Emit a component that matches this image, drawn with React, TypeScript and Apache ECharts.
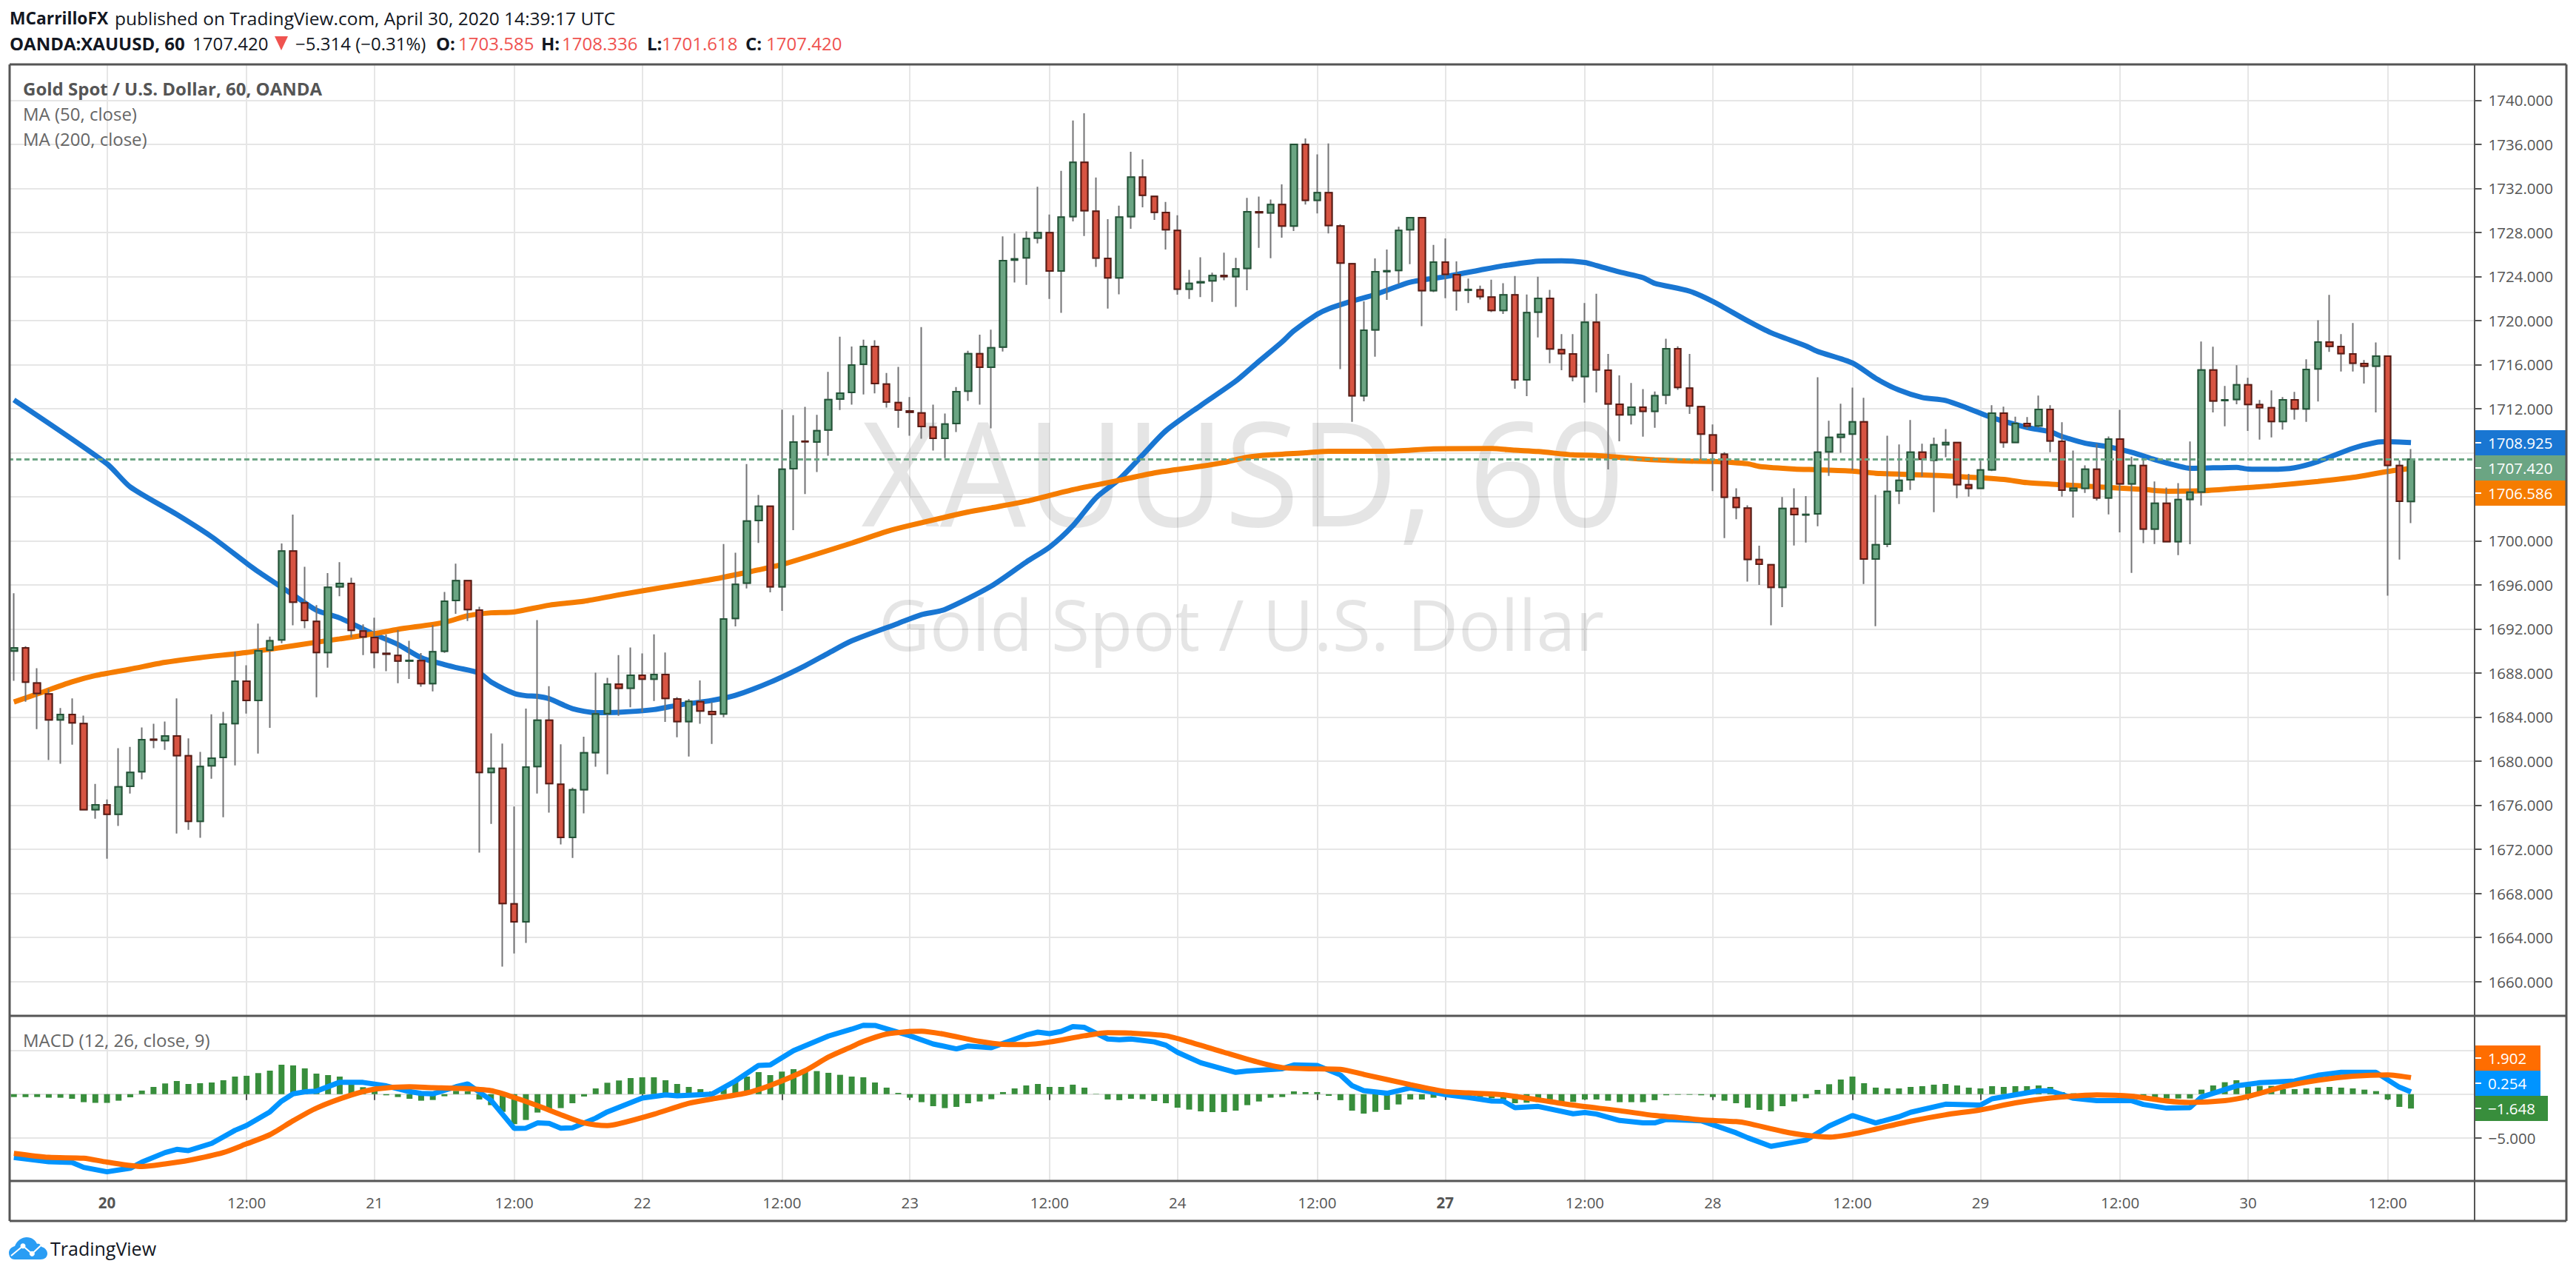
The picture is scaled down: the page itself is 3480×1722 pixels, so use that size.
import React, { useEffect, useRef } from "react";
import * as echarts from "echarts";

// open, high, low, close
const candles: number[][] = [
[1690.0,1695.24,1687.29,1690.29],[1690.29,1690.44,1685.4,1687.17],[1687.1,1688.43,1682.9,1686.15],[1686.1,1686.57,1680.1,1683.75],
[1683.75,1684.83,1679.76,1684.23],[1684.23,1685.7,1681.5,1683.48],[1683.42,1684.14,1675.59,1675.59],[1675.59,1677.93,1674.78,1676.04],
[1676.04,1676.52,1671.15,1675.17],[1675.17,1681.17,1674.12,1677.66],[1677.72,1681.29,1677.06,1678.98],[1679.04,1683.06,1678.35,1681.95],
[1681.98,1683.39,1681.17,1681.92],[1681.86,1683.6,1681.02,1682.28],[1682.28,1685.7,1673.43,1680.51],[1680.48,1682.07,1673.76,1674.54],
[1674.54,1680.84,1673.04,1679.52],[1679.58,1684.26,1678.41,1680.27],[1680.33,1684.47,1674.9,1683.36],[1683.42,1689.93,1679.61,1687.26],
[1687.26,1688.7,1684.32,1685.52],[1685.52,1692.48,1680.69,1690.02],[1690.08,1691.31,1683.03,1690.92],[1691.01,1699.77,1690.71,1699.08],
[1699.08,1702.38,1692.33,1694.43],[1694.37,1697.64,1692.06,1692.78],[1692.69,1694.16,1685.79,1689.87],[1689.87,1697.07,1688.49,1695.78],
[1695.84,1698.06,1694.97,1696.14],[1696.14,1696.65,1691.22,1691.88],[1691.82,1692.42,1689.63,1691.28],[1691.22,1693.02,1688.43,1689.87],
[1689.78,1691.52,1688.16,1689.72],[1689.6,1691.91,1687.08,1689.09],[1689.09,1690.92,1687.47,1689.15],[1689.12,1689.81,1686.75,1687.05],
[1687.05,1692.36,1686.33,1689.93],[1689.99,1695.36,1689.84,1694.52],[1694.58,1697.94,1693.38,1696.38],[1696.38,1696.38,1692.72,1693.77],
[1693.71,1694.01,1671.69,1678.98],[1678.98,1682.52,1674.3,1679.34],[1679.34,1681.59,1661.34,1667.07],[1667.04,1675.89,1662.54,1665.42],
[1665.42,1684.77,1663.5,1679.46],[1679.52,1692.81,1677.06,1683.72],[1683.72,1686.81,1675.32,1677.96],[1677.9,1681.53,1672.44,1673.07],
[1673.07,1677.6,1671.21,1677.39],[1677.42,1682.22,1675.26,1680.75],[1680.78,1688.04,1679.49,1684.29],[1684.32,1687.56,1678.8,1686.99],
[1686.99,1689.63,1684.11,1686.63],[1686.63,1690.32,1684.89,1687.8],[1687.8,1689.78,1684.44,1687.44],[1687.44,1691.52,1685.46,1687.86],
[1687.86,1689.87,1683.57,1685.7],[1685.64,1685.82,1682.16,1683.6],[1683.6,1685.64,1680.42,1685.43],[1685.4,1687.32,1683.39,1684.56],
[1684.5,1685.34,1681.56,1684.26],[1684.29,1699.71,1683.99,1692.9],[1692.96,1698.93,1692.24,1696.05],[1696.16,1706.98,1695.68,1701.79],
[1701.85,1704.16,1699.81,1703.14],[1703.14,1703.2,1695.32,1695.83],[1695.83,1711.92,1693.64,1706.5],[1706.56,1711.41,1700.98,1708.98],
[1709.05,1712.16,1704.25,1709.0],[1708.98,1711.44,1706.26,1710.0],[1710.06,1715.34,1707.73,1712.82],[1712.88,1718.54,1711.89,1713.42],
[1713.48,1717.65,1712.37,1715.97],[1716.03,1718.27,1713.3,1717.65],[1717.65,1718.21,1713.39,1714.29],[1714.23,1715.25,1712.1,1712.61],
[1712.55,1715.79,1710.27,1711.89],[1711.8,1713.06,1709.55,1711.68],[1711.62,1719.41,1709.28,1710.39],[1710.33,1712.37,1708.2,1709.31],
[1709.31,1711.56,1707.52,1710.6],[1710.66,1713.96,1709.88,1713.54],[1713.6,1717.26,1712.7,1716.99],[1716.99,1718.72,1712.37,1715.76],
[1715.76,1719.17,1710.21,1717.53],[1717.59,1727.65,1717.2,1725.44],[1725.5,1727.92,1723.46,1725.6],[1725.7,1728.1,1723.25,1727.44],
[1727.5,1732.15,1727.0,1727.98],[1727.98,1729.63,1721.96,1724.5],[1724.5,1733.59,1720.7,1729.39],[1729.45,1738.17,1729.0,1734.37],
[1734.37,1738.83,1727.68,1729.99],[1729.93,1732.99,1724.87,1725.68],[1725.65,1729.21,1721.09,1723.88],[1723.88,1730.44,1722.38,1729.39],
[1729.45,1735.33,1728.34,1733.02],[1733.02,1734.64,1730.29,1731.37],[1731.28,1731.28,1729.15,1729.84],[1729.81,1730.77,1726.46,1728.25],
[1728.19,1729.57,1722.35,1722.86],[1722.86,1724.6,1721.96,1723.37],[1723.44,1725.74,1722.14,1723.52],[1723.61,1724.36,1721.69,1724.09],
[1724.09,1726.16,1723.67,1724.0],[1724.0,1725.7,1721.24,1724.69],[1724.74,1731.14,1722.76,1729.88],[1729.88,1731.26,1726.6,1729.8],
[1729.78,1730.99,1725.67,1730.54],[1730.54,1732.37,1727.53,1728.58],[1728.58,1736.0,1728.13,1736.0],[1736.0,1736.54,1730.54,1730.93],
[1730.93,1735.1,1729.73,1731.62],[1731.62,1736.09,1727.92,1728.64],[1728.58,1728.74,1715.59,1725.22],[1725.16,1725.25,1710.81,1713.18],
[1713.18,1721.74,1712.67,1719.13],[1719.16,1725.64,1716.73,1724.44],[1724.45,1726.45,1721.89,1724.52],[1724.56,1728.52,1723.3,1728.19],
[1728.25,1729.34,1725.13,1729.34],[1729.34,1729.34,1719.49,1722.73],[1722.73,1726.87,1722.58,1725.31],[1725.31,1727.47,1722.04,1724.2],
[1724.17,1725.37,1720.9,1722.73],[1722.75,1723.81,1721.59,1722.83],[1722.79,1723.18,1721.92,1722.19],[1722.13,1723.72,1720.78,1720.93],
[1720.93,1723.39,1720.6,1722.34],[1722.34,1724.05,1713.81,1714.63],[1714.63,1722.37,1713.15,1720.72],[1720.78,1723.99,1718.47,1722.01],
[1722.01,1722.79,1716.13,1717.42],[1717.36,1718.77,1715.5,1717.0],[1716.97,1718.77,1714.48,1714.93],[1714.93,1721.59,1712.55,1719.85],
[1719.85,1722.43,1713.48,1715.53],[1715.5,1716.97,1706.49,1712.43],[1712.4,1715.02,1709.04,1711.44],[1711.44,1714.33,1710.57,1712.13],
[1712.13,1713.78,1709.46,1711.77],[1711.77,1713.57,1710.27,1713.18],[1713.24,1718.35,1712.4,1717.45],[1717.45,1717.66,1713.72,1713.94],
[1713.87,1716.97,1711.53,1712.25],[1712.19,1712.19,1707.42,1709.7],[1709.61,1710.57,1704.52,1707.96],[1707.87,1708.05,1700.25,1703.97],
[1703.91,1704.78,1701.96,1703.04],[1702.98,1703.22,1696.31,1698.32],[1698.31,1699.56,1696.0,1697.88],[1697.84,1697.84,1692.33,1695.78],
[1695.78,1703.99,1693.99,1702.94],[1702.94,1704.78,1699.58,1702.38],[1702.36,1704.06,1699.85,1702.4],[1702.45,1714.85,1701.33,1708.05],
[1708.09,1710.91,1705.9,1709.39],[1709.41,1712.46,1708.0,1709.66],[1709.7,1713.91,1706.41,1710.8],[1710.8,1712.99,1696.09,1698.35],
[1698.35,1704.17,1692.26,1699.65],[1699.7,1709.55,1699.43,1704.49],[1704.53,1708.76,1703.34,1705.49],[1705.54,1710.98,1704.62,1708.05],
[1708.05,1708.83,1705.85,1707.42],[1707.33,1709.37,1702.61,1708.72],[1708.74,1710.15,1707.6,1708.92],[1708.92,1708.92,1703.88,1705.11],
[1705.09,1706.08,1704.02,1704.78],[1704.78,1707.28,1704.78,1706.43],[1706.46,1712.32,1706.34,1711.6],[1711.6,1712.19,1708.45,1708.94],
[1708.94,1711.27,1708.94,1710.66],[1710.66,1711.25,1710.15,1710.42],[1710.44,1713.19,1710.28,1711.94],[1711.94,1712.32,1708.05,1709.08],
[1709.05,1710.78,1704.02,1704.6],[1704.56,1708.2,1702.11,1704.78],[1704.78,1706.86,1704.35,1706.5],[1706.5,1708.81,1703.66,1703.9],
[1703.9,1709.48,1702.4,1709.25],[1709.25,1711.9,1700.77,1705.18],[1705.18,1707.64,1697.1,1706.84],[1706.84,1707.31,1699.79,1701.08],
[1701.08,1705.4,1699.72,1703.41],[1703.41,1704.84,1699.94,1699.94],[1699.94,1705.25,1698.71,1703.75],[1703.77,1709.03,1699.7,1704.42],
[1704.44,1718.1,1703.21,1715.52],[1715.52,1717.63,1711.67,1712.7],[1712.74,1714.07,1710.4,1712.8],[1712.84,1715.95,1712.41,1714.16],
[1714.16,1714.81,1709.99,1712.39],[1712.37,1712.79,1709.19,1712.1],[1712.08,1713.66,1709.39,1710.84],[1710.84,1713.06,1710.1,1712.81],
[1712.81,1713.53,1711.0,1711.99],[1711.99,1716.49,1710.8,1715.57],[1715.61,1720.04,1712.66,1718.05],[1718.05,1722.33,1717.16,1717.67],
[1717.65,1718.77,1715.37,1717.0],[1716.98,1719.78,1715.37,1716.13],[1716.1,1716.42,1714.29,1715.86],[1715.86,1718.01,1711.67,1716.78],
[1716.78,1716.78,1695.02,1706.86],[1706.84,1707.31,1698.31,1703.59],[1703.585,1708.336,1701.618,1707.42],
];

// [bar index, value], read at the bends of each line
const ma50: number[][] = [
[0,1712.8],[8,1707.0],[10,1704.9],[14,1702.4],[17,1700.37],[20,1697.97],[21,1697.2],[24,1695.1],[26,1693.7],[28,1693.0],[31,1691.5],[33,1690.6],[35,1689.4],[37,1688.76],[38,1688.5],[40,1688.0],[41,1687.2],[43,1686.15],[44,1685.94],[45,1685.88],[46,1685.67],[48,1684.77],[50,1684.41],[52,1684.44],[55,1684.68],[57,1685.07],[60,1685.52],[62,1685.97],[65,1687.17],[68,1688.67],[70,1689.81],[72,1690.92],[76,1692.51],[78,1693.3],[80,1693.77],[84,1695.9],[87,1698.08],[89,1699.43],[91,1701.37],[93,1703.92],[95,1705.6],[97,1707.8],[99,1710.0],[102,1712.3],[105,1714.5],[107,1716.3],[109,1718.08],[110,1719.07],[112,1720.57],[113,1721.08],[115,1721.77],[117,1722.37],[120,1723.48],[123,1723.99],[126,1724.59],[128,1724.98],[129,1725.13],[131,1725.4],[133,1725.43],[135,1725.28],[136,1725.0],[138,1724.41],[140,1723.9],[141,1723.39],[144,1722.67],[146,1721.74],[149,1719.97],[151,1718.9],[154,1717.7],[155,1717.2],[158,1716.15],[160,1714.76],[162,1713.69],[164,1713.02],[166,1712.75],[168,1712.0],[170,1711.18],[173,1710.3],[175,1709.9],[176,1709.48],[178,1708.87],[180,1708.55],[182,1708.05],[184,1707.37],[186,1706.8],[187,1706.59],[191,1706.68],[192,1706.52],[194,1706.5],[196,1706.64],[198,1707.2],[201,1708.4],[203,1708.94],[204,1709.0],[206,1708.925],
];
const ma200: number[][] = [
[0,1685.37],[2,1686.1],[5,1687.2],[7,1687.77],[10,1688.35],[13,1688.97],[16,1689.4],[20,1689.87],[23,1690.32],[26,1690.8],[28,1691.1],[31,1691.58],[33,1691.97],[37,1692.6],[39,1693.2],[41,1693.47],[43,1693.55],[46,1694.16],[49,1694.52],[52,1695.1],[56,1695.81],[60,1696.5],[64,1697.37],[66,1697.85],[72,1699.8],[75,1700.85],[77,1701.4],[82,1702.62],[84,1703.0],[87,1703.6],[91,1704.65],[95,1705.5],[98,1706.17],[102,1706.77],[104,1707.12],[106,1707.6],[108,1707.81],[111,1708.0],[113,1708.14],[118,1708.14],[122,1708.35],[127,1708.38],[129,1708.23],[131,1708.11],[134,1707.81],[136,1707.75],[139,1707.5],[141,1707.36],[144,1707.24],[146,1707.21],[149,1707.0],[150,1706.75],[153,1706.52],[155,1706.46],[158,1706.34],[160,1706.14],[164,1705.99],[167,1705.85],[171,1705.58],[173,1705.29],[176,1705.1],[179,1704.91],[183,1704.67],[185,1704.51],[188,1704.55],[191,1704.77],[194,1705.0],[198,1705.4],[201,1705.76],[204,1706.3],[206,1706.586],
];
const macdLine: number[][] = [
[0,-7.27],[3,-7.75],[5,-7.83],[6,-8.4],[8,-8.91],[10,-8.5],[11,-7.8],[13,-6.7],[14,-6.33],[15,-6.47],[17,-5.65],[19,-4.15],[20,-3.59],[22,-2.03],[23,-0.8],[24,0.05],[25,0.27],[26,0.35],[28,1.37],[30,1.35],[32,0.95],[34,0.3],[35,0.08],[36,0.04],[38,0.85],[39,1.17],[41,-0.7],[43,-3.92],[44,-3.9],[45,-3.3],[46,-3.36],[47,-3.9],[48,-3.87],[50,-2.75],[51,-2.03],[54,-0.45],[56,-0.08],[57,-0.19],[60,0.01],[62,1.51],[64,3.3],[65,3.35],[67,5.0],[70,6.67],[72,7.46],[73,7.9],[74,7.89],[77,6.7],[79,5.76],[81,5.2],[82,5.53],[84,5.34],[87,6.78],[88,7.12],[89,6.95],[90,7.2],[91,7.75],[92,7.66],[94,6.33],[95,6.24],[96,6.33],[98,6.0],[99,5.62],[100,4.8],[102,3.6],[104,2.85],[105,2.5],[106,2.65],[109,2.92],[110,3.35],[112,3.3],[114,2.2],[115,0.97],[116,0.4],[118,0.1],[120,0.72],[123,-0.05],[125,-0.38],[127,-0.78],[128,-0.8],[129,-1.55],[131,-1.41],[134,-2.25],[135,-2.1],[136,-2.28],[138,-3.02],[140,-3.3],[141,-3.3],[142,-2.9],[145,-3.05],[148,-4.43],[149,-5.0],[151,-5.99],[154,-5.28],[156,-3.65],[158,-2.45],[160,-3.3],[162,-2.59],[163,-2.08],[166,-1.15],[169,-1.25],[170,-0.53],[174,0.38],[175,0.38],[177,-0.47],[179,-0.75],[182,-0.75],[183,-1.18],[185,-1.6],[187,-1.55],[188,-0.33],[191,0.95],[193,1.31],[196,1.51],[198,2.16],[200,2.5],[203,2.5],[205,0.8],[206,0.254],
];
const signalLine: number[][] = [
[0,-6.79],[3,-7.25],[6,-7.35],[8,-7.8],[11,-8.3],[13,-8.0],[15,-7.6],[18,-6.7],[20,-5.7],[22,-4.65],[24,-3.05],[26,-1.6],[29,-0.1],[31,0.58],[34,0.86],[36,0.75],[38,0.68],[41,0.4],[43,-0.38],[45,-1.32],[47,-2.35],[49,-3.3],[51,-3.6],[52,-3.39],[55,-2.3],[58,-1.05],[60,-0.55],[63,0.15],[65,1.0],[68,2.7],[70,4.25],[72,5.45],[73,6.05],[75,6.9],[77,7.2],[78,7.23],[80,6.86],[83,6.05],[85,5.72],[87,5.7],[89,5.98],[92,6.7],[94,7.05],[96,7.0],[99,6.7],[101,6.0],[104,4.8],[107,3.64],[109,3.05],[112,2.9],[114,2.85],[116,2.27],[120,1.09],[123,0.3],[125,0.15],[128,-0.07],[131,-0.65],[134,-1.26],[138,-1.9],[141,-2.45],[143,-2.67],[145,-2.96],[148,-3.15],[149,-3.35],[152,-4.27],[154,-4.72],[156,-4.93],[158,-4.58],[160,-4.01],[163,-3.1],[166,-2.37],[169,-1.8],[172,-1.0],[175,-0.45],[179,-0.08],[182,-0.24],[185,-0.78],[187,-0.95],[190,-0.75],[192,-0.27],[195,0.85],[198,1.6],[201,2.06],[204,2.22],[206,1.902],
];
const histogram: number[] = [
-0.33,-0.33,-0.33,-0.41,-0.41,-0.53,-0.92,-1.0,-1.0,-0.75,-0.36,0.41,0.83,1.23,1.51,1.17,1.26,1.34,1.6,2.02,2.11,2.42,2.7,3.38,3.3,2.96,2.36,2.19,2.02,1.09,0.8,0.38,
-0.13,-0.33,-0.53,-0.75,-0.67,-0.24,0.38,0.32,-0.61,-1.26,-2.03,-3.44,-2.96,-2.11,-1.77,-1.6,-1.04,-0.27,0.66,1.31,1.57,1.85,1.94,1.94,1.6,1.17,0.83,0.58,0.32,0.66,
1.51,2.02,2.53,2.19,2.59,2.87,2.59,2.65,2.45,2.22,2.02,1.94,1.34,0.75,0.15,-0.41,-0.92,-1.38,-1.6,-1.46,-1.04,-0.84,-0.58,0.24,0.66,1.0,1.17,0.83,0.83,1.09,0.75,0.04,
-0.61,-0.69,-0.53,-0.58,-0.78,-1.04,-1.55,-1.77,-1.97,-2.06,-2.06,-1.89,-1.26,-0.84,-0.41,-0.33,0.32,0.24,0.24,-0.19,-0.69,-1.89,-2.23,-2.03,-1.8,-1.18,-0.61,-0.61,-0.41,
-0.19,-0.19,-0.19,-0.33,-0.47,-0.61,-1.04,-0.98,-0.75,-0.61,-1.04,-0.89,-0.61,-0.61,-0.75,-0.92,-0.92,-0.92,-0.69,-0.13,-0.07,-0.07,-0.13,-0.33,-0.75,-1.04,-1.55,-1.8,-1.97,
-1.38,-0.84,-0.47,0.49,1.14,1.68,2.02,1.26,0.75,0.66,0.66,0.83,0.92,1.09,1.17,1.0,0.75,0.66,0.92,0.83,0.92,0.92,1.0,0.83,0.24,0.1,0.1,-0.05,-0.1,-0.1,-0.1,-0.3,-0.4,-0.5,
-0.5,-0.5,0.52,1.0,1.37,1.6,0.89,0.95,0.95,0.58,0.58,0.66,0.75,0.83,0.75,0.66,0.52,0.35,-0.61,-1.46,-1.648,
];

const priceTicks = [1660,1664,1668,1672,1676,1680,1684,1688,1692,1696,1700,1704,1708,1712,1716,1720,1724,1728,1732,1736,1740];
const priceLabelTicks = [1660,1664,1668,1672,1676,1680,1684,1688,1692,1696,1700,1712,1716,1720,1724,1728,1732,1736,1740];
const macdGridTicks = [-5,0,5];
const macdLabelTicks = [-5];
const dayTicks: [number,string][] = [[8,"20"],[31,"21"],[54,"22"],[77,"23"],[100,"24"],[123,"27"],[146,"28"],[169,"29"],[192,"30"]];
const noonTicks = [20,43,66,89,112,135,158,181,204];
const boldDays = ["20","27"];
const lastClose = 1707.42;
const BLANK_BARS = 5;

const labels = new Map<number,string>([...dayTicks, ...noonTicks.map((i): [number,string] => [i,"12:00"])]);
const categories = Array.from({ length: candles.length + BLANK_BARS }, (_, i) => labels.get(i) ?? `h${i}`);
const isTick = (i: number) => labels.has(i);

const FONT = '"Open Sans"';
const INK = "#555555";
const GRID = "#e6e6e6";
const RED = "#ef5350";
const HEAD = "#131722";

const CLOUD = "M8 30C2 30 0 25 0 21C0 16 4 13 8 12C11 4 18 0 24 0C31 0 36 4 38 9C40 8 44 10 44 13C49 14 52 18 52 22C52 27 48 30 43 30Z";
echarts.graphic.registerShape("tvCloud", echarts.graphic.extendPath(CLOUD, {}) as any);

const text = (x: number, y: number, t: string, size: number, fill: string, weight: any = "normal", align = "left", z = 100) => ({
  type: "text", x, y, z, silent: true,
  style: { text: t, fontFamily: FONT, fontSize: size, fontWeight: weight, fill, align, verticalAlign: "middle" },
});
const rect = (x: number, y: number, w: number, h: number, fill: string, z = 90) => ({
  type: "rect", z, silent: true, shape: { x, y, width: w, height: h }, style: { fill },
});
const frameLine = (x1: number, y1: number, x2: number, y2: number, w = 3) => ({
  type: "line", z: 110, silent: true, shape: { x1, y1, x2, y2 }, style: { stroke: INK, lineWidth: w },
});
const badge = (y: number, h: number, w: number, fill: string, t: string) => [
  rect(3343, y, w, h, fill),
  rect(3343, y + h / 2 - 1, 9, 2, "#ffffff", 95),
  text(3361, y + h / 2, t, 20.5, "#ffffff"),
];

const graphics: any[] = [
  { ...text(1679, 635, "XAUUSD, 60", 184, "rgba(0,0,0,0.1)", "normal", "center", 1), scaleY: 1.07 },
  text(1677, 842, "Gold Spot / U.S. Dollar", 95, "rgba(0,0,0,0.1)", "normal", "center", 1),
  rect(0, 80, 12, 1530, "#ffffff", 105),
  frameLine(13, 87, 3467, 87),
  frameLine(13, 1649, 3467, 1649),
  frameLine(13, 87, 13, 1649),
  frameLine(3467, 87, 3467, 1649),
  frameLine(13, 1372, 3467, 1372),
  frameLine(13, 1595, 3467, 1595),
  frameLine(3343, 87, 3343, 1649, 2),
  text(13, 24, "MCarrilloFX", 22.8, HEAD, "bold"),
  text(155, 24, "published on TradingView.com, April 30, 2020 14:39:17 UTC", 24.5, HEAD),
  text(13, 58, "OANDA:XAUUSD, 60", 24, HEAD, "bold"),
  text(260, 58, "1707.420", 24, HEAD),
  { type: "polygon", z: 100, silent: true, shape: { points: [[371, 49], [389, 49], [380, 68]] }, style: { fill: RED } },
  text(399, 58, "−5.314 (−0.31%)", 24, HEAD),
  text(589, 58, "O:", 24, HEAD, "bold"),
  text(619, 58, "1703.585", 24, RED),
  text(731, 58, "H:", 24, HEAD, "bold"),
  text(759, 58, "1708.336", 24, RED),
  text(874, 58, "L:", 24, HEAD, "bold"),
  text(894, 58, "1701.618", 24, RED),
  text(1007, 58, "C:", 24, HEAD, "bold"),
  text(1035, 58, "1707.420", 24, RED),
  text(31, 119, "Gold Spot / U.S. Dollar, 60, OANDA", 24, INK, "bold"),
  text(31, 153, "MA (50, close)", 24, "#666666"),
  text(31, 187, "MA (200, close)", 24, "#666666"),
  text(31, 1404, "MACD (12, 26, close, 9)", 24, "#666666"),
  ...badge(581, 34, 123, "#1976d2", "1708.925"),
  ...badge(615, 34, 123, "#6ba583", "1707.420"),
  ...badge(649, 34, 123, "#f57c00", "1706.586"),
  ...badge(1412, 34, 89, "#ff6d00", "1.902"),
  ...badge(1446, 34, 89, "#0094ff", "0.254"),
  ...badge(1480, 34, 99, "#388e3c", "−1.648"),
  { type: "tvCloud", x: 12, y: 1671, z: 100, silent: true, style: { fill: "#2a9df4" } },
  { type: "polyline", z: 101, silent: true, shape: { points: [[15, 1696], [31, 1682.7], [43.3, 1693.3], [56.7, 1680.7]] }, style: { stroke: "#ffffff", lineWidth: 2, fill: "none" } },
  { type: "circle", z: 102, silent: true, shape: { cx: 31, cy: 1682.7, r: 3.5 }, style: { fill: "#ffffff" } },
  { type: "circle", z: 102, silent: true, shape: { cx: 43.3, cy: 1693.3, r: 3.5 }, style: { fill: "#ffffff" } },
  text(68, 1686, "TradingView", 25, HEAD),
];

function buildOption(): any {
  const xBase = {
    type: "category", data: categories, boundaryGap: true,
    axisLine: { show: false },
    splitLine: { show: true, alignWithLabel: true, interval: (i: number) => isTick(i), lineStyle: { color: GRID, width: 2 } },
  };
  return {
    animation: false,
    backgroundColor: "#ffffff",
    graphic: { elements: graphics },
    grid: [
      { left: 10.89, width: 3332.64, top: 88, height: 1284 },
      { left: 10.89, width: 3332.64, top: 1373, height: 222 },
    ],
    xAxis: [
      { ...xBase, gridIndex: 0, axisTick: { show: false }, axisLabel: { show: false } },
      {
        ...xBase, gridIndex: 1,
        axisTick: { show: true, alignWithLabel: true, interval: (i: number) => isTick(i), length: 8, lineStyle: { color: INK, width: 2 } },
        axisLabel: {
          show: true, interval: (i: number) => isTick(i), margin: 18, color: INK, fontFamily: FONT, fontSize: 20.5,
          formatter: (v: string) => (boldDays.includes(v) ? `{b|${v}}` : v),
          rich: { b: { fontFamily: FONT, fontSize: 20.5, fontWeight: "bold", color: INK } },
        },
      },
    ],
    yAxis: [
      {
        type: "value", gridIndex: 0, position: "right", min: 1656.874, max: 1743.193, scale: true,
        axisLine: { show: false },
        axisTick: { show: true, customValues: priceTicks, length: 9, lineStyle: { color: INK, width: 2 } },
        axisLabel: { show: true, customValues: priceLabelTicks, margin: 18, color: INK, fontFamily: FONT, fontSize: 20.5, formatter: (v: number) => v.toFixed(3) },
        splitLine: { show: true, lineStyle: { color: GRID, width: 2 } },
      },
      {
        type: "value", gridIndex: 1, position: "right", min: -9.96, max: 8.9,
        axisLine: { show: false },
        axisTick: { show: true, customValues: macdGridTicks, length: 9, lineStyle: { color: INK, width: 2 } },
        axisLabel: { show: true, customValues: macdLabelTicks, margin: 18, color: INK, fontFamily: FONT, fontSize: 20.5, formatter: (v: number) => v.toFixed(3).replace("-", "−") },
        splitLine: { show: true, lineStyle: { color: GRID, width: 2 } },
      },
    ],
    series: [
      { name: "MA (50, close)", type: "line", xAxisIndex: 0, yAxisIndex: 0, data: ma50, showSymbol: false, symbol: "none", smooth: 0.25, z: 3, lineStyle: { color: "#1976d2", width: 7 } },
      { name: "MA (200, close)", type: "line", xAxisIndex: 0, yAxisIndex: 0, data: ma200, showSymbol: false, symbol: "none", smooth: 0.25, z: 3, lineStyle: { color: "#f57c00", width: 7 } },
      {
        name: "XAUUSD", type: "candlestick", xAxisIndex: 0, yAxisIndex: 0, z: 4, barWidth: 9,
        data: candles.map(([o, h, l, c]) => [o, c, l, h]),
        itemStyle: { color: "#737375", color0: "#737375", borderColor: "#737375", borderColor0: "#737375", borderWidth: 2 },
      },
      {
        name: "XAUUSD bodies", type: "candlestick", xAxisIndex: 0, yAxisIndex: 0, z: 5, barWidth: 9,
        data: candles.map(([o, , , c]) => [o, c, Math.min(o, c), Math.max(o, c)]),
        itemStyle: { color: "#6ba583", color0: "#d75442", borderColor: "#225437", borderColor0: "#5b1a13", borderWidth: 2 },
        markLine: {
          silent: true, symbol: "none", z: 6, label: { show: false },
          lineStyle: { color: "#6ba583", type: [7, 4], width: 3 },
          data: [{ yAxis: lastClose }],
        },
      },
      { name: "Histogram", type: "bar", xAxisIndex: 1, yAxisIndex: 1, data: histogram, barWidth: 8, z: 3, itemStyle: { color: "#388e3c" } },
      { name: "MACD", type: "line", xAxisIndex: 1, yAxisIndex: 1, data: macdLine, showSymbol: false, symbol: "none", z: 4, lineStyle: { color: "#0094ff", width: 7 } },
      { name: "Signal", type: "line", xAxisIndex: 1, yAxisIndex: 1, data: signalLine, showSymbol: false, symbol: "none", smooth: 0.25, z: 5, lineStyle: { color: "#ff6d00", width: 7 } },
    ],
  };
}

export default function App() {
  const ref = useRef<HTMLDivElement>(null);
  useEffect(() => {
    const chart = echarts.init(ref.current!, undefined, { renderer: "svg" });
    chart.setOption(buildOption());
    return () => chart.dispose();
  }, []);
  return <div ref={ref} style={{ position: "absolute", left: 0, top: 0, width: 3480, height: 1722, background: "#fff" }} />;
}
